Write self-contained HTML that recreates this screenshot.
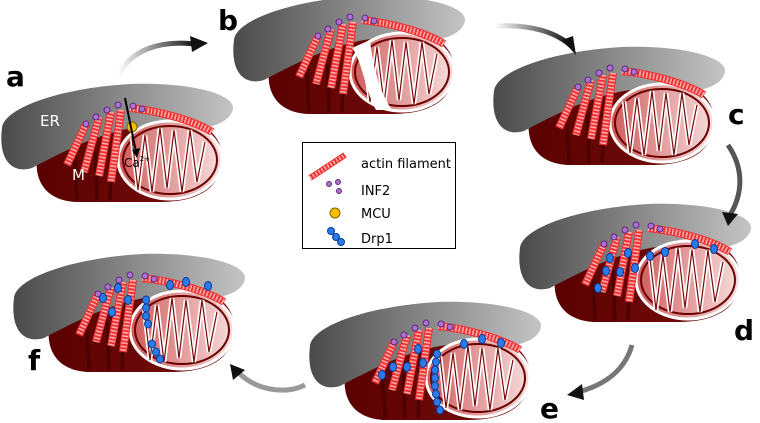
<!DOCTYPE html>
<html><head><meta charset="utf-8"><style>
html,body{margin:0;padding:0;background:#fff;}
svg{display:block;}
text{font-family:"DejaVu Sans","Liberation Sans",sans-serif;}
</style></head><body>
<svg width="760" height="423" viewBox="0 0 760 423" xmlns="http://www.w3.org/2000/svg">
<defs>
<linearGradient id="er" x1="0" x2="1" y1="0" y2="0"><stop offset="0" stop-color="#4a4a4a"/><stop offset="1" stop-color="#c4c4c4"/></linearGradient>
<linearGradient id="mb" x1="0" x2="1" y1="0" y2="0"><stop offset="0" stop-color="#5a0000"/><stop offset="1" stop-color="#7a1010"/></linearGradient>
<linearGradient id="cut" x1="0" x2="1" y1="0" y2="0"><stop offset="0" stop-color="#cf5a5a"/><stop offset="1" stop-color="#f7dede"/></linearGradient>
<linearGradient id="arr" x1="0" x2="1"><stop offset="0" stop-color="#fff"/><stop offset="1" stop-color="#111"/></linearGradient>
<g id="panel">
<path d="M38,150 C45,122 110,115 170,118 C210,120 224,140 222,162 C220,190 195,202 160,202 L75,202 C45,200 32,180 38,150Z" fill="url(#mb)"/>
<path d="M75,160 L77,200 M95,150 L97,200 M112,150 L110,200" stroke="#4a0000" stroke-width="3" fill="none"/>
<path d="M2,128 C4,108 60,88 130,84 C190,82 234,94 233,108 C232,120 215,128 195,128 L150,126 C110,128 70,148 32,168 C12,174 -2,160 2,128Z" fill="url(#er)"/>
<ellipse cx="170" cy="160" rx="52" ry="39" fill="url(#cut)" stroke="#fff" stroke-width="3"/>
<ellipse cx="170" cy="160" rx="47" ry="34" fill="none" stroke="#6a0000" stroke-width="2"/>
<path d="M132,138 L138,190 L145,135 L152,192 L160,128 L167,188 L174,130 L182,192 L190,130 L197,182 L205,142" fill="none" stroke="#fff" stroke-width="4.5"/>
<path d="M132,138 L138,190 L145,135 L152,192 L160,128 L167,188 L174,130 L182,192 L190,130 L197,182 L205,142" fill="none" stroke="#7a0a0a" stroke-width="1.2"/>
<g stroke="#e33" stroke-width="8" fill="none">
<path d="M86,124 L67,165"/><path d="M99,117 L84,172"/><path d="M111,112 L99,176"/><path d="M121,110 L111,182"/><path d="M130,108 C150,110 190,118 212,132"/>
</g>
<g stroke="#ffb0b0" stroke-width="6" stroke-dasharray="1.5 2" fill="none">
<path d="M86,124 L67,165"/><path d="M99,117 L84,172"/><path d="M111,112 L99,176"/><path d="M121,110 L111,182"/><path d="M130,108 C150,110 190,118 212,132"/>
</g>
<g fill="#b070d0" stroke="#5a2a80" stroke-width="1">
<circle cx="86" cy="124" r="3"/><circle cx="96" cy="117" r="3"/><circle cx="107" cy="110" r="3"/><circle cx="118" cy="105" r="3"/><circle cx="133" cy="106" r="3"/><circle cx="142" cy="109" r="3"/>
</g>
</g>
</defs>

<use href="#panel" transform="translate(0,0)"/>
<use href="#panel" transform="translate(232,-88)"/>
<use href="#panel" transform="translate(492,-37)"/>
<use href="#panel" transform="translate(518,120)"/>
<use href="#panel" transform="translate(308,218)"/>
<use href="#panel" transform="translate(12,170)"/>

<circle cx="132" cy="127" r="5" fill="#f5c000" stroke="#806000"/>
<line x1="125" y1="98" x2="136" y2="152" stroke="#000" stroke-width="2"/>
<path d="M132,150 L137,158 L140,148Z" fill="#000"/>
<text x="40" y="126" font-size="15" fill="#fff">ER</text>
<text x="72" y="180" font-size="15" fill="#fff">M</text>
<text x="124" y="167" font-size="12" fill="#000">Ca<tspan font-size="7" dy="-6">2+</tspan></text>

<path d="M352,48 C362,60 365,90 376,110 L392,110 C378,90 372,60 370,40Z" fill="#fff"/>

<g fill="#2a7ae8" stroke="#0a3a9a" stroke-width="1">
<ellipse cx="610" cy="258" rx="3.5" ry="4.5"/><ellipse cx="628" cy="253" rx="3.5" ry="4.5"/><ellipse cx="650" cy="256" rx="3.5" ry="4.5"/><ellipse cx="665" cy="252" rx="3.5" ry="4.5"/><ellipse cx="695" cy="244" rx="3.5" ry="4.5"/><ellipse cx="714" cy="249" rx="3.5" ry="4.5"/><ellipse cx="635" cy="268" rx="3.5" ry="4.5"/><ellipse cx="620" cy="272" rx="3.5" ry="4.5"/><ellipse cx="606" cy="271" rx="3.5" ry="4.5"/><ellipse cx="598" cy="288" rx="3.5" ry="4.5"/>
<ellipse cx="418" cy="349" rx="3.5" ry="4.5"/><ellipse cx="407" cy="367" rx="3.5" ry="4.5"/><ellipse cx="393" cy="367" rx="3.5" ry="4.5"/><ellipse cx="423" cy="363" rx="3.5" ry="4.5"/><ellipse cx="382" cy="375" rx="3.5" ry="4.5"/><ellipse cx="482" cy="339" rx="3.5" ry="4.5"/><ellipse cx="501" cy="343" rx="3.5" ry="4.5"/><ellipse cx="464" cy="344" rx="3.5" ry="4.5"/>
<ellipse cx="437" cy="354" rx="3.5" ry="4"/><ellipse cx="436" cy="362" rx="3.5" ry="4"/><ellipse cx="435" cy="370" rx="3.5" ry="4"/><ellipse cx="435" cy="378" rx="3.5" ry="4"/><ellipse cx="435" cy="386" rx="3.5" ry="4"/><ellipse cx="436" cy="394" rx="3.5" ry="4"/><ellipse cx="437" cy="402" rx="3.5" ry="4"/><ellipse cx="440" cy="410" rx="3.5" ry="4"/>
<ellipse cx="118" cy="288" rx="3.5" ry="4.5"/><ellipse cx="103" cy="298" rx="3.5" ry="4.5"/><ellipse cx="128" cy="300" rx="3.5" ry="4.5"/><ellipse cx="112" cy="312" rx="3.5" ry="4.5"/><ellipse cx="186" cy="282" rx="3.5" ry="4.5"/><ellipse cx="208" cy="286" rx="3.5" ry="4.5"/><ellipse cx="170" cy="285" rx="3.5" ry="4.5"/>
<ellipse cx="146" cy="300" rx="3.5" ry="4"/><ellipse cx="146" cy="308" rx="3.5" ry="4"/><ellipse cx="146" cy="316" rx="3.5" ry="4"/><ellipse cx="148" cy="324" rx="3.5" ry="4"/><ellipse cx="152" cy="344" rx="3.5" ry="4"/><ellipse cx="156" cy="352" rx="3.5" ry="4"/><ellipse cx="160" cy="359" rx="3.5" ry="4"/>
</g>

<g fill="none" stroke-width="5">
<path d="M118,76 C130,50 160,40 195,44" stroke="url(#arr)"/>
<path d="M495,26 C530,24 555,32 570,45" stroke="url(#arr)"/>
<path d="M728,145 C745,170 742,195 730,215" stroke="#555"/>
<path d="M632,345 C625,370 605,385 578,392" stroke="#777"/>
<path d="M305,385 C285,395 255,390 238,372" stroke="#999"/>
</g>
<g fill="#111">
<path d="M190,36 L208,43 L192,52Z"/>
<path d="M562,40 L576,55 L573,36Z"/>
<path d="M722,212 L728,226 L738,214Z"/>
<path d="M582,384 L567,395 L584,400Z"/>
<path d="M233,380 L230,364 L245,370Z"/>
</g>

<g font-weight="bold" font-size="28" fill="#000">
<text x="6" y="86">a</text><text x="218" y="30">b</text><text x="728" y="124">c</text>
<text x="734" y="340">d</text><text x="540" y="418">e</text><text x="28" y="370">f</text>
</g>

<rect x="302.5" y="142.5" width="153" height="106" fill="#fff" stroke="#000"/>
<line x1="310" y1="178" x2="345" y2="155" stroke="#e33" stroke-width="6"/>
<line x1="310" y1="178" x2="345" y2="155" stroke="#ffb0b0" stroke-width="4" stroke-dasharray="1.5 2"/>
<g fill="#b070d0" stroke="#5a2a80"><circle cx="329" cy="184" r="2.5"/><circle cx="338" cy="182" r="2.5"/><circle cx="339" cy="191" r="2.5"/></g>
<circle cx="335" cy="213" r="5" fill="#f5c000" stroke="#806000"/>
<g fill="#2a7ae8" stroke="#0a3a9a"><circle cx="331" cy="231" r="3.5"/><circle cx="336" cy="237" r="3.5"/><circle cx="341" cy="242" r="3.5"/></g>
<g font-size="13" fill="#000"><text x="361" y="168">actin filament</text><text x="361" y="195">INF2</text><text x="361" y="218">MCU</text><text x="361" y="243">Drp1</text></g>
</svg>
</body></html>
